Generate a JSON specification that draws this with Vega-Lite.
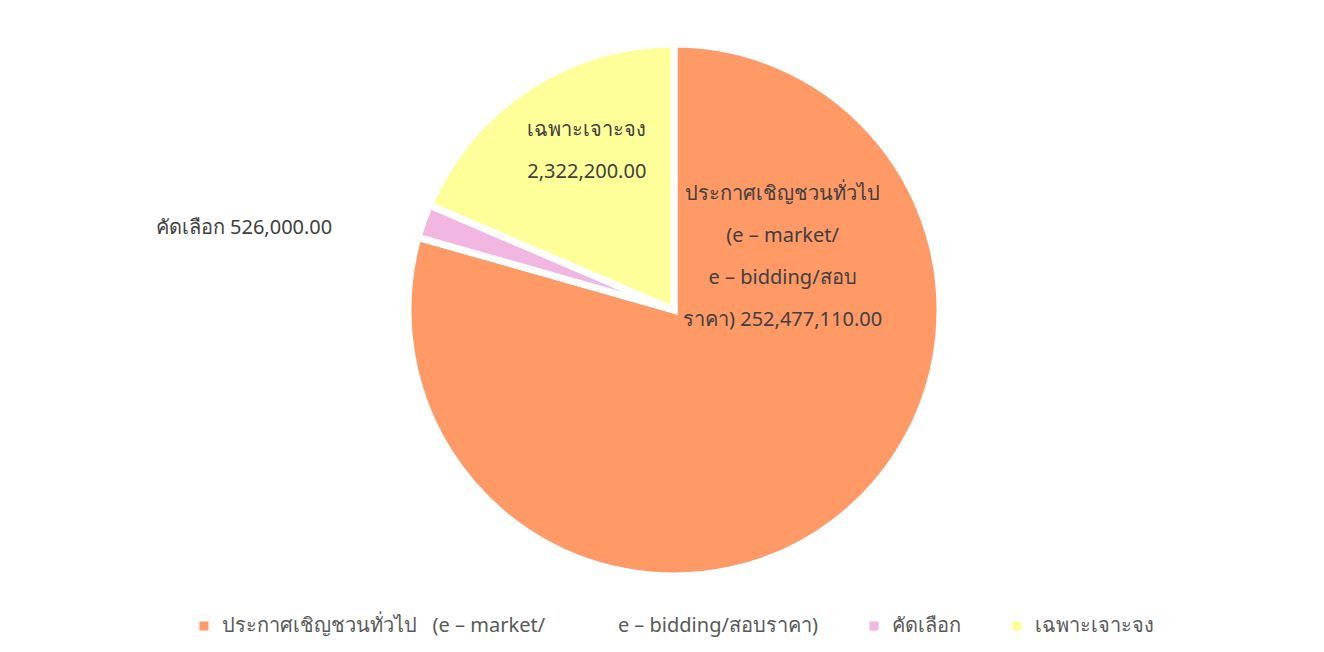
{
  "$schema": "https://vega.github.io/schema/vega-lite/v6.json",
  "width": 1300,
  "height": 580,
  "padding": {"left": 24, "top": 20, "right": 0, "bottom": 8},
  "background": "white",
  "data": {
    "values": [
      {"idx": 0, "category": "ประกาศเชิญชวนทั่วไป\u00a0\u00a0\u00a0(e – market/\u00a0\u00a0\u00a0\u00a0\u00a0\u00a0\u00a0\u00a0\u00a0\u00a0\u00a0\u00a0\u00a0\u00a0e – bidding/สอบราคา)", "amount": 252477110.00, "share": 79.4, "label": "ประกาศเชิญชวนทั่วไป\n(e – market/\ne – bidding/สอบ\nราคา) 252,477,110.00"},
      {"idx": 1, "category": "คัดเลือก", "amount": 526000.00, "share": 2.05, "label": "คัดเลือก 526,000.00"},
      {"idx": 2, "category": "เฉพาะเจาะจง", "amount": 2322200.00, "share": 18.55, "label": "เฉพาะเจาะจง\n2,322,200.00"}
    ]
  },
  "encoding": {
    "theta": {"field": "share", "type": "quantitative", "stack": true},
    "order": {"field": "idx", "type": "quantitative"},
    "color": {
      "field": "category",
      "type": "nominal",
      "sort": {"field": "idx"},
      "scale": {
        "domain": ["ประกาศเชิญชวนทั่วไป\u00a0\u00a0\u00a0(e – market/\u00a0\u00a0\u00a0\u00a0\u00a0\u00a0\u00a0\u00a0\u00a0\u00a0\u00a0\u00a0\u00a0\u00a0e – bidding/สอบราคา)", "คัดเลือก", "เฉพาะเจาะจง"],
        "range": ["#FF9966", "#F1B6E2", "#FFFF99"]
      },
      "legend": {
        "orient": "bottom",
        "direction": "horizontal",
        "title": null,
        "symbolType": "square",
        "symbolSize": 81,
        "symbolStrokeWidth": 0,
        "labelFont": "Noto Sans",
        "labelFontSize": 20,
        "labelColor": "#595959",
        "labelLimit": 0,
        "labelOffset": 8,
        "columnPadding": 46,
        "offset": 16
      }
    }
  },
  "layer": [
    {
      "mark": {"type": "arc", "outerRadius": 266, "stroke": "white", "strokeWidth": 7, "strokeJoin": "miter"}
    },
    {
      "mark": {"type": "text", "radius": 1, "dx": 108, "dy": -117, "align": "center", "baseline": "middle", "lineBreak": "\n", "lineHeight": 42, "font": "Noto Sans", "fontSize": 20, "color": "#404040"},
      "encoding": {
        "color": {"value": "#404040"},
        "text": {"condition": {"test": "datum.idx === 0", "field": "label"}, "value": ""}
      }
    },
    {
      "mark": {"type": "text", "radius": 182, "dx": 13, "dy": -28, "align": "center", "baseline": "middle", "lineBreak": "\n", "lineHeight": 42, "font": "Noto Sans", "fontSize": 20, "color": "#404040"},
      "encoding": {
        "color": {"value": "#404040"},
        "text": {"condition": {"test": "datum.idx === 2", "field": "label"}, "value": ""}
      }
    },
    {
      "mark": {"type": "text", "radius": 300, "dx": -59, "dy": 18, "align": "right", "baseline": "middle", "font": "Noto Sans", "fontSize": 20, "color": "#404040"},
      "encoding": {
        "color": {"value": "#404040"},
        "text": {"condition": {"test": "datum.idx === 1", "field": "label"}, "value": ""}
      }
    }
  ],
  "config": {
    "view": {"stroke": null},
    "legend": {"layout": {"bottom": {"anchor": "middle"}}}
  }
}
